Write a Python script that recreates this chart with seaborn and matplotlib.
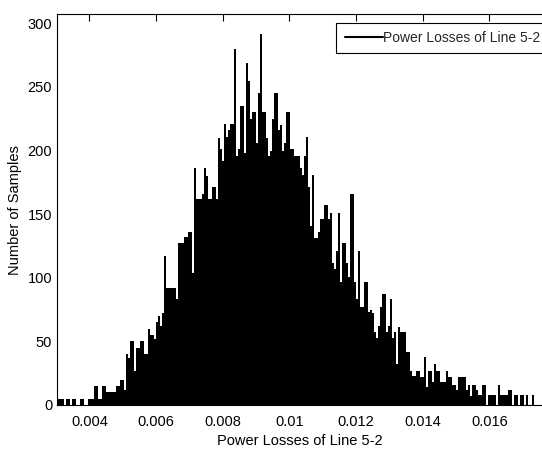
import numpy as np
import pandas as pd
import matplotlib
matplotlib.use("Agg")
import matplotlib.pyplot as plt
import seaborn as sns
from matplotlib.lines import Line2D
from matplotlib.ticker import MultipleLocator, FormatStrFormatter

sns.set_theme(style="white")
plt.rcParams["font.family"] = ["Liberation Sans", "DejaVu Sans"]

# Histogram bin counts (left to right)
counts = [
    5, 5, 5, 0, 5, 5, 0, 5, 5, 0,
    0, 5, 5, 0, 0, 5, 5, 5, 15, 15,
    5, 5, 15, 15, 10, 10, 10, 10, 10, 15,
    15, 20, 20, 12, 40, 37, 50, 50, 27, 45,
    45, 50, 50, 40, 40, 60, 55, 55, 52, 65,
    70, 62, 72, 117, 92, 92, 92, 92, 92, 83,
    127, 127, 127, 132, 132, 136, 136, 104, 186, 162,
    162, 162, 166, 186, 180, 162, 162, 171, 171, 162,
    210, 201, 192, 221, 211, 216, 221, 221, 280, 196,
    201, 235, 235, 198, 269, 255, 225, 230, 230, 206,
    245, 292, 230, 230, 210, 196, 200, 225, 245, 245,
    216, 220, 200, 206, 230, 230, 201, 201, 196, 196,
    196, 186, 181, 196, 211, 171, 141, 181, 131, 131,
    136, 146, 146, 157, 157, 146, 151, 112, 107, 121,
    151, 97, 127, 127, 112, 101, 166, 166, 97, 83,
    121, 77, 77, 97, 97, 73, 75, 72, 57, 53,
    62, 77, 87, 87, 57, 62, 83, 53, 57, 32,
    61, 57, 57, 57, 42, 42, 27, 23, 23, 27,
    27, 22, 22, 38, 14, 27, 27, 18, 32, 27,
    27, 18, 18, 18, 27, 22, 22, 16, 16, 12,
    22, 22, 22, 22, 12, 16, 7, 16, 16, 12,
    8, 8, 16, 16, 0, 8, 8, 8, 8, 0,
    16, 8, 8, 8, 8, 12, 12, 0, 8, 8,
    0, 8, 8, 0, 8, 0, 0, 8, 0,
]
bin_start = 0.00306
bin_width = 6.0e-5
series_label = "Power Losses of Line 5-2"
x_label = "Power Losses of Line 5-2"
y_label = "Number of Samples"

n_bins = len(counts)
bin_end = bin_start + bin_width * n_bins
centers = bin_start + bin_width * (np.arange(n_bins) + 0.5)
df = pd.DataFrame({"loss": centers, "n": counts})

fig = plt.figure(figsize=(5.42, 4.5), dpi=100)
ax = fig.add_axes([0.1052, 0.1, 0.8948, 0.8678])
sns.histplot(data=df, x="loss", weights="n", bins=n_bins,
             binrange=(bin_start, bin_end), color="black",
             alpha=1, linewidth=0, ax=ax)

ax.set_xlim(0.003028, 0.017577)
ax.set_ylim(0, 307)
ax.xaxis.set_major_locator(MultipleLocator(0.002))
ax.xaxis.set_major_formatter(FormatStrFormatter("%g"))
ax.set_yticks(range(0, 301, 50))
ax.tick_params(direction="in", length=5, width=0.8, top=True, right=False,
               labelsize=10.5, colors="black")
ax.tick_params(axis="x", pad=7)
for s in ax.spines.values():
    s.set_color("black")
    s.set_linewidth(0.8)
ax.spines["right"].set_visible(False)

ax.set_xlabel(x_label, fontsize=10.5, labelpad=4, color="black")
ax.set_ylabel(y_label, fontsize=10.5, labelpad=4, color="black")

handle = Line2D([], [], color="black", lw=1.5)
leg = ax.legend([handle], [series_label], loc="upper right",
                bbox_to_anchor=(549 / 542, (450 - 22.5) / 450),
                bbox_transform=fig.transFigure, fancybox=False,
                edgecolor="black", framealpha=1, borderpad=0.6,
                handlelength=2.75, handletextpad=0.05, fontsize=10,
                borderaxespad=0)
leg.get_frame().set_linewidth(0.8)

fig.savefig("out.png", dpi=100)
